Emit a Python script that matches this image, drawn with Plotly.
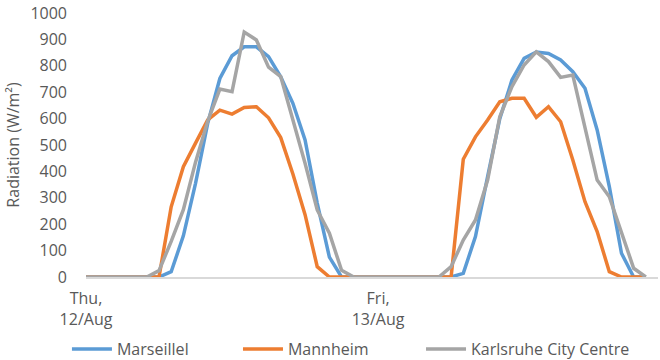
import pandas as pd
import plotly.graph_objects as go

# Hourly timestamps, Thu 12 Aug 00:00 to Fri 13 Aug 23:00
hours = pd.date_range("2021-08-12 00:00", periods=48, freq="h")

tick_dates = ["2021-08-12 00:00", "2021-08-13 00:00"]
tick_labels = ["Thu,<br>12/Aug", "Fri,<br>13/Aug"]

# Global radiation (W/m²) per hour
marseille = [0, 0, 0, 0, 0, 0, 0, 20, 156, 355, 582, 752, 838, 872, 872, 835,
             758, 658, 519, 280, 75, 0, 0, 0,
             0, 0, 0, 0, 0, 0, 0, 14, 153, 380, 600, 746, 828, 852, 847, 822,
             778, 715, 557, 342, 90, 0, 0, None]
mannheim = [0, 0, 0, 0, 0, 0, 0, 266, 418, 507, 595, 632, 617, 642, 645, 603,
            528, 390, 236, 39, 0, 0, 0, 0,
            0, 0, 0, 0, 0, 0, 0, 446, 531, 595, 664, 677, 677, 605, 645, 588,
            443, 285, 172, 20, 0, 0, 0, None]
karlsruhe = [0, 0, 0, 0, 0, 0, 24, 135, 255, 435, 590, 712, 702, 928, 898, 795,
             759, 595, 431, 254, 166, 25, 0, 0,
             0, 0, 0, 0, 0, 0, 39, 140, 216, 367, 607, 721, 803, 853, 816, 756,
             765, 569, 367, 304, 165, 33, 0, None]

# (name, values, colour, legend id, legend x in plot fraction)
series = [
    ("MarseilleI", marseille, "#5B9BD5", "legend", -0.0333),
    ("Mannheim", mannheim, "#ED7D31", "legend2", 0.2657),
    ("Karlsruhe City Centre", karlsruhe, "#A5A5A5", "legend3", 0.5857),
]

FONT = "Open Sans"
TEXT = "#595959"
SIZE = 16

fig = go.Figure()
legends = {}
for name, values, color, leg, lx in series:
    fig.add_trace(go.Scatter(
        x=hours, y=values, name=name, mode="lines",
        line=dict(color=color, width=3.5),
        legend=leg,
    ))
    legends[leg] = dict(
        orientation="h", x=lx, xanchor="left", y=-0.273, yanchor="middle",
        font=dict(family=FONT, size=SIZE, color=TEXT),
        itemwidth=40, bgcolor="rgba(0,0,0,0)",
    )

fig.update_layout(
    width=660, height=360,
    margin=dict(l=86, r=2, t=13, b=83, autoexpand=False),
    paper_bgcolor="white", plot_bgcolor="white",
    font=dict(family=FONT, size=SIZE, color=TEXT),
    showlegend=True,
    **legends,
)

fig.update_xaxes(
    range=[hours[0], hours[-1]],
    tickvals=tick_dates, ticktext=tick_labels,
    showgrid=False, zeroline=False,
    showline=True, linecolor="#D9D9D9", linewidth=1.5,
    ticks="", ticklabelstandoff=6,
    tickfont=dict(family=FONT, size=SIZE, color=TEXT),
)

fig.update_yaxes(
    range=[0, 1000], dtick=100,
    showgrid=False, zeroline=False, showline=False,
    ticks="", ticklabelstandoff=18,
    tickfont=dict(family=FONT, size=SIZE, color=TEXT),
    title=dict(text="Radiation (W/m²)", standoff=6,
               font=dict(family=FONT, size=SIZE, color=TEXT)),
)

fig.write_html("out.html")
